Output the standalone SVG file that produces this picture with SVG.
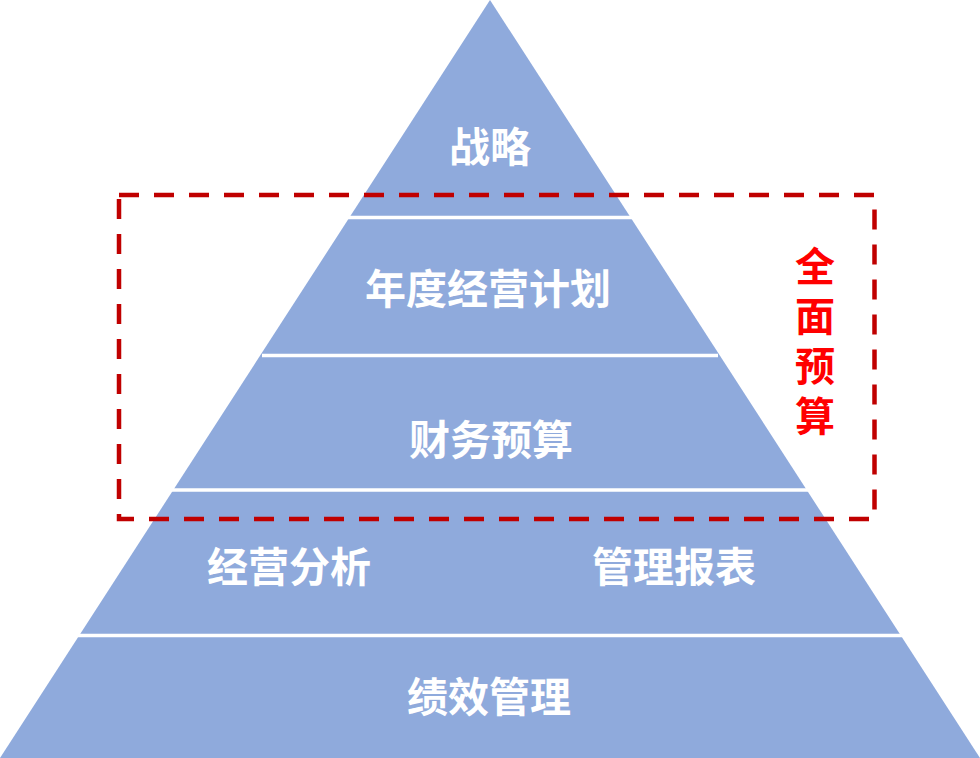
<svg xmlns="http://www.w3.org/2000/svg" width="980" height="758" viewBox="0 0 980 758">
<style>
.lbl{font-family:"Noto Sans CJK SC","Noto Sans",sans-serif;font-weight:bold;font-size:41px;fill:#FFFFFF;text-anchor:middle}
.red{font-family:"Noto Sans CJK SC","Noto Sans",sans-serif;font-weight:bold;font-size:40px;fill:#FF0000;writing-mode:vertical-rl;letter-spacing:10px}
.sep{stroke:#FFFFFF;stroke-width:3.5}
</style>
<rect width="980" height="758" fill="#FFFFFF"/>
<g id="pyramid">
<polygon points="490,0 0,758 980,758" fill="#8FAADC"/>
</g>
<g id="connectors">
<line class="sep" x1="348" y1="217.5" x2="632" y2="217.5"/>
<line class="sep" x1="262" y1="355.5" x2="718" y2="355.5"/>
<line class="sep" x1="172" y1="490" x2="808" y2="490"/>
<line class="sep" x1="78" y1="635.5" x2="902" y2="635.5"/>
</g>
<g id="node-strategy"><text class="lbl" x="490" y="162">战略</text></g>
<g id="node-plan"><text class="lbl" x="488" y="304">年度经营计划</text></g>
<g id="node-budget"><text class="lbl" x="491" y="455">财务预算</text></g>
<g id="node-analysis"><text class="lbl" x="289" y="582">经营分析</text></g>
<g id="node-report"><text class="lbl" x="674" y="582">管理报表</text></g>
<g id="node-perf"><text class="lbl" x="489" y="712">绩效管理</text></g>
<g id="node-fullbudget">
<rect x="119" y="195" width="755.5" height="324" fill="none" stroke="#C00000" stroke-width="4.5" stroke-dasharray="20 15"/>
<text class="red" x="815" y="246">全面预算</text>
</g>
</svg>
